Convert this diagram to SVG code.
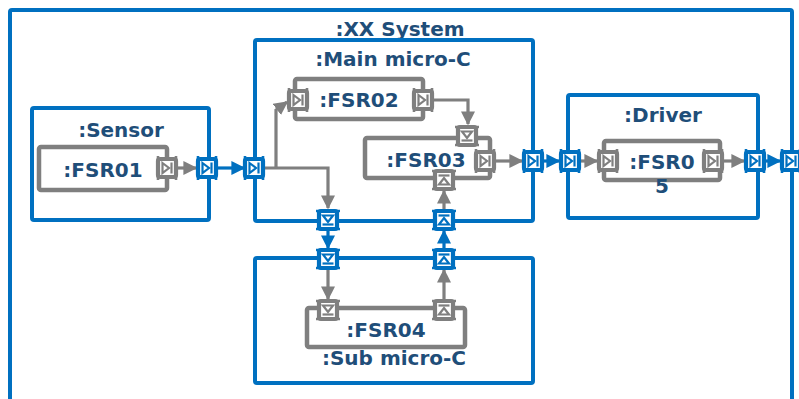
<svg xmlns="http://www.w3.org/2000/svg" xmlns:xlink="http://www.w3.org/1999/xlink" width="799" height="399" viewBox="0 0 799 399">
<style>
.blk{fill:none;stroke:#0070C0;stroke-width:4}
.prt{fill:#fff;stroke:#7F7F7F;stroke-width:4.5}
.lbl{font-family:"DejaVu Sans",Verdana,sans-serif;font-weight:bold;font-size:20px;fill:#1F4E79;text-anchor:middle}
.cg{fill:none;stroke:#7F7F7F;stroke-width:3.2;marker-end:url(#ag)}
.cb{fill:none;stroke:#0070C0;stroke-width:3.2;marker-end:url(#ab)}
.pg{color:#7F7F7F}
.pb{color:#0070C0}
</style>
<defs>
<marker id="ag" viewBox="0 0 10 10" refX="9" refY="5" markerWidth="14" markerHeight="14" markerUnits="userSpaceOnUse" orient="auto"><path d="M0,0 L10,5 L0,10 Z" fill="#7F7F7F"/></marker>
<marker id="ab" viewBox="0 0 10 10" refX="9" refY="5" markerWidth="14" markerHeight="14" markerUnits="userSpaceOnUse" orient="auto"><path d="M0,0 L10,5 L0,10 Z" fill="#0070C0"/></marker>
<g id="port">
<path d="M-9,-12 V12 M9,-12 V12" fill="none" stroke="currentColor" stroke-width="2.6"/>
<rect x="-9" y="-9" width="18" height="18" rx="2" fill="#fff" stroke="currentColor" stroke-width="4.2"/>
<path d="M-4.5,-5 L2,0 L-4.5,5 Z" fill="none" stroke="currentColor" stroke-width="2.2"/>
<path d="M4.5,-5.5 V5.5" fill="none" stroke="currentColor" stroke-width="2.2"/>
</g>
</defs>

<g id="xx-system">
<rect class="blk" x="10" y="10" width="782" height="420" rx="2"/>
<text class="lbl" x="400" y="36">:XX System</text>
</g>

<g id="sensor">
<rect class="blk" x="32" y="108" width="177" height="112" rx="2"/>
<text class="lbl" x="121" y="137">:Sensor</text>
</g>
<g id="fsr01">
<rect class="prt" x="39" y="147" width="128" height="43" rx="2"/>
<text class="lbl" x="103" y="177">:FSR01</text>
<use xlink:href="#port" class="pg" transform="translate(167,168)"/>
</g>

<g id="main-micro-c">
<rect class="blk" x="255" y="40" width="278" height="181" rx="2"/>
<text class="lbl" x="393" y="66">:Main micro-C</text>
</g>
<g id="fsr02">
<rect class="prt" x="295" y="79" width="128" height="40" rx="2"/>
<text class="lbl" x="359" y="107">:FSR02</text>
<use xlink:href="#port" class="pg" transform="translate(298,100)"/>
<use xlink:href="#port" class="pg" transform="translate(423,100)"/>
</g>
<g id="fsr03">
<rect class="prt" x="365" y="138" width="125" height="40" rx="2"/>
<text class="lbl" x="426" y="167">:FSR03</text>
<use xlink:href="#port" class="pg" transform="translate(467,136) rotate(90)"/>
<use xlink:href="#port" class="pg" transform="translate(485,161)"/>
<use xlink:href="#port" class="pg" transform="translate(444,180) rotate(-90)"/>
</g>

<g id="sub-micro-c">
<rect class="blk" x="255" y="258" width="278" height="125" rx="2"/>
<text class="lbl" x="394" y="365">:Sub micro-C</text>
</g>
<g id="fsr04">
<rect class="prt" x="307" y="308" width="158" height="39" rx="2"/>
<text class="lbl" x="386" y="337">:FSR04</text>
<use xlink:href="#port" class="pg" transform="translate(328,310) rotate(90)"/>
<use xlink:href="#port" class="pg" transform="translate(444,310) rotate(-90)"/>
</g>

<g id="driver">
<rect class="blk" x="568" y="95" width="190" height="123" rx="2"/>
<text class="lbl" x="663" y="122">:Driver</text>
</g>
<g id="fsr05">
<rect class="prt" x="604" y="141" width="116" height="39" rx="2"/>
<text class="lbl" x="662" y="169">:FSR0<tspan x="662" y="193">5</tspan></text>
<use xlink:href="#port" class="pg" transform="translate(608,161)"/>
<use xlink:href="#port" class="pg" transform="translate(713,161)"/>
</g>

<g id="connectors">
<path class="cg" d="M177,168 H196"/>
<path class="cb" d="M218,168 H244"/>
<path class="cg" d="M264,168 H328 V208"/>
<path class="cg" d="M276,168 V110 L287,102"/>
<path class="cg" d="M433,100 H468 V124"/>
<path class="cg" d="M495,161 H522"/>
<path class="cg" d="M444,209 V191"/>
<path class="cb" d="M328,231 V248"/>
<path class="cb" d="M444,248 V231"/>
<path class="cg" d="M328,269 V299"/>
<path class="cg" d="M444,299 V270"/>
<path class="cb" d="M543,161 H559"/>
<path class="cg" d="M580,161 H597"/>
<path class="cg" d="M723,161 H744"/>
<path class="cb" d="M765,161 H780"/>
</g>

<g id="boundary-ports">
<use xlink:href="#port" class="pb" transform="translate(207,168)"/>
<use xlink:href="#port" class="pb" transform="translate(254,168)"/>
<use xlink:href="#port" class="pb" transform="translate(328,220) rotate(90)"/>
<use xlink:href="#port" class="pb" transform="translate(444,220) rotate(-90)"/>
<use xlink:href="#port" class="pb" transform="translate(533,161)"/>
<use xlink:href="#port" class="pb" transform="translate(328,259) rotate(90)"/>
<use xlink:href="#port" class="pb" transform="translate(444,259) rotate(-90)"/>
<use xlink:href="#port" class="pb" transform="translate(570,161)"/>
<use xlink:href="#port" class="pb" transform="translate(755,161)"/>
<use xlink:href="#port" class="pb" transform="translate(791,161)"/>
</g>
</svg>
